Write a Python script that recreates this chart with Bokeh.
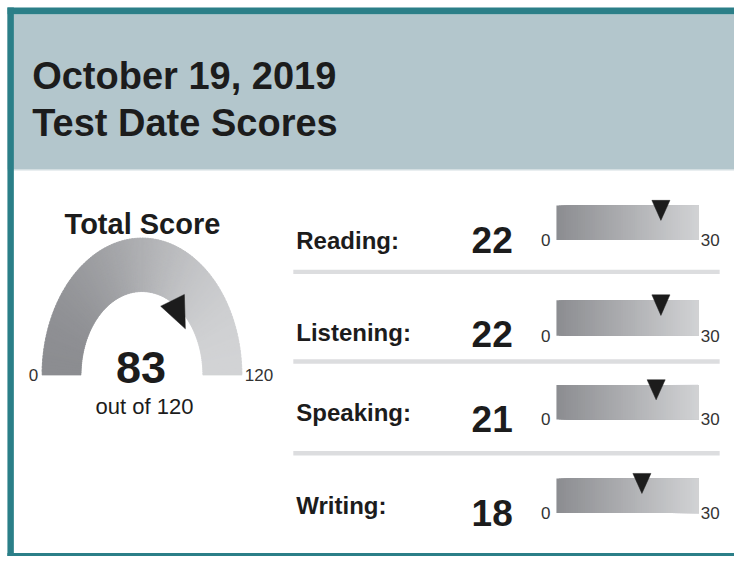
import numpy as np
from bokeh.plotting import figure
from bokeh.models import Range1d
from bokeh.core.properties import value
from bokeh.embed import file_html
from bokeh.resources import INLINE

# ---------------- data ----------------
title_lines = ["October 19, 2019", "Test Date Scores"]
total_label = "Total Score"
total_score = 83
total_max = 120
gauge_tick_labels = ["0", "120"]
sections = ["Reading:", "Listening:", "Speaking:", "Writing:"]
section_scores = [22, 22, 21, 18]
section_max = 30
bar_tick_labels = ["0", "30"]

# ---------------- layout / style ----------------
FONT = "Liberation Sans"
TXT = "#1c1c1c"
TEAL = "#2b7f88"
HEADER = "#b3c6cc"
SEP = "#dcdddf"
DARK = np.array([0x8c, 0x8d, 0x91])
LIGHT = np.array([0xd2, 0xd3, 0xd5])


def grad(t):
    c = DARK + (LIGHT - DARK) * t
    return "#%02x%02x%02x" % tuple(int(round(v)) for v in c)


p = figure(width=734, height=556, x_range=Range1d(0, 742), y_range=Range1d(564, 0),
           output_backend="svg", toolbar_location=None, x_axis_type=None, y_axis_type=None,
           min_border=0)
p.grid.visible = False
p.outline_line_color = None
p.background_fill_color = "white"
p.border_fill_color = "white"

# frame + header
p.quad(left=[7], right=[742], top=[14], bottom=[171], fill_color=HEADER, line_color=None)
p.quad(left=[7], right=[742], top=[171], bottom=[172.5], fill_color="#d3dee1", line_color=None)
p.quad(left=[7], right=[742], top=[7], bottom=[14], fill_color=TEAL, line_color=None)
p.quad(left=[7], right=[13.5], top=[7], bottom=[564], fill_color=TEAL, line_color=None)
p.quad(left=[7], right=[742], top=[560.5], bottom=[564], fill_color=TEAL, line_color=None)

# title
p.text(x=[32, 32], y=[77, 124], text=title_lines, text_font=value(FONT), text_font_style="bold",
       text_font_size="38px", text_color=TXT, text_align="left", text_baseline="alphabetic")

# ---------------- gauge ----------------
g = p.subplot(x_source=Range1d(-1, 1), y_source=Range1d(0, 1),
              x_target=Range1d(42, 244), y_target=Range1d(380, 241))
R_IN = 0.61
N = 120
xs, ys, cols = [], [], []
step = np.pi / N
for k in range(N):
    a0 = np.pi - k * step
    a1 = max(a0 - step * 1.6, 0.0)
    xs.append([np.cos(a0), np.cos(a1), R_IN * np.cos(a1), R_IN * np.cos(a0)])
    ys.append([np.sin(a0), np.sin(a1), R_IN * np.sin(a1), R_IN * np.sin(a0)])
    cols.append(grad((np.cos(a0 - step / 2) + 1) / 2))
g.patches(xs=xs, ys=ys, fill_color=cols, line_color=cols, line_width=0.6)

theta = np.pi * (1 - total_score / total_max)
ax, ay = R_IN * np.cos(theta), R_IN * np.sin(theta)
g.patch(x=[ax - 0.158, ax + 0.079, ax + 0.089], y=[ay, ay + 0.086, ay - 0.165],
        fill_color="#1c1c1c", line_color="#1c1c1c", line_width=0.5)

p.text(x=[143.5], y=[227], text=[total_label], text_font=value(FONT), text_font_style="bold",
       text_font_size="29px", text_color=TXT, text_align="center", text_baseline="alphabetic")
p.text(x=[142], y=[372], text=[str(total_score)], text_font=value(FONT), text_font_style="bold",
       text_font_size="45px", text_color=TXT, text_align="center", text_baseline="alphabetic")
p.text(x=[145.5], y=[412], text=["out of %d" % total_max], text_font=value(FONT),
       text_font_size="22px", text_color=TXT, text_align="center", text_baseline="alphabetic")
p.text(x=[38, 247], y=[380, 380], text=gauge_tick_labels, text_font=value(FONT),
       text_font_size="17px", text_color="#333333", text_align=["right", "left"],
       text_baseline="alphabetic")

# ---------------- section rows ----------------
bar_top = [208, 304, 390, 485]
bar_bot = [243, 340, 425, 520]
label_base = [243, 337, 418, 512]
num_base = [243, 338, 425, 520]
sep_y = [273, 364, 457]

for yy in sep_y:
    p.quad(left=[296], right=[727], top=[yy], bottom=[yy + 4.5], fill_color=SEP, line_color=None)

p.text(x=[299] * 4, y=label_base, text=sections, text_font=value(FONT), text_font_style="bold",
       text_font_size="24px", text_color=TXT, text_align="left", text_baseline="alphabetic")
p.text(x=[497] * 4, y=num_base, text=[str(s) for s in section_scores], text_font=value(FONT),
       text_font_style="bold", text_font_size="37px", text_color=TXT, text_align="center",
       text_baseline="alphabetic")

NS = 60
edges = np.linspace(0, section_max, NS + 1)[:-1]
scol = [grad(e / section_max) for e in edges]
for i, sc in enumerate(section_scores):
    b = p.subplot(x_source=Range1d(0, section_max), y_source=Range1d(0, 1),
                  x_target=Range1d(562, 706), y_target=Range1d(bar_bot[i], bar_top[i]))
    b.quad(left=edges, right=[section_max] * NS, bottom=0, top=1, fill_color=scol, line_color=None)
    b.patch(x=[sc - 1.9, sc + 1.9, sc], y=[1.15, 1.15, 0.57], fill_color="#1c1c1c",
            line_color="#1c1c1c", line_width=0.5)
    p.text(x=[556, 708], y=[bar_bot[i]] * 2, text=bar_tick_labels, text_font=value(FONT),
           text_font_size="17px", text_color="#333333", text_align=["right", "left"],
           text_baseline="alphabetic")

open("out.html", "w").write(file_html(p, INLINE))
